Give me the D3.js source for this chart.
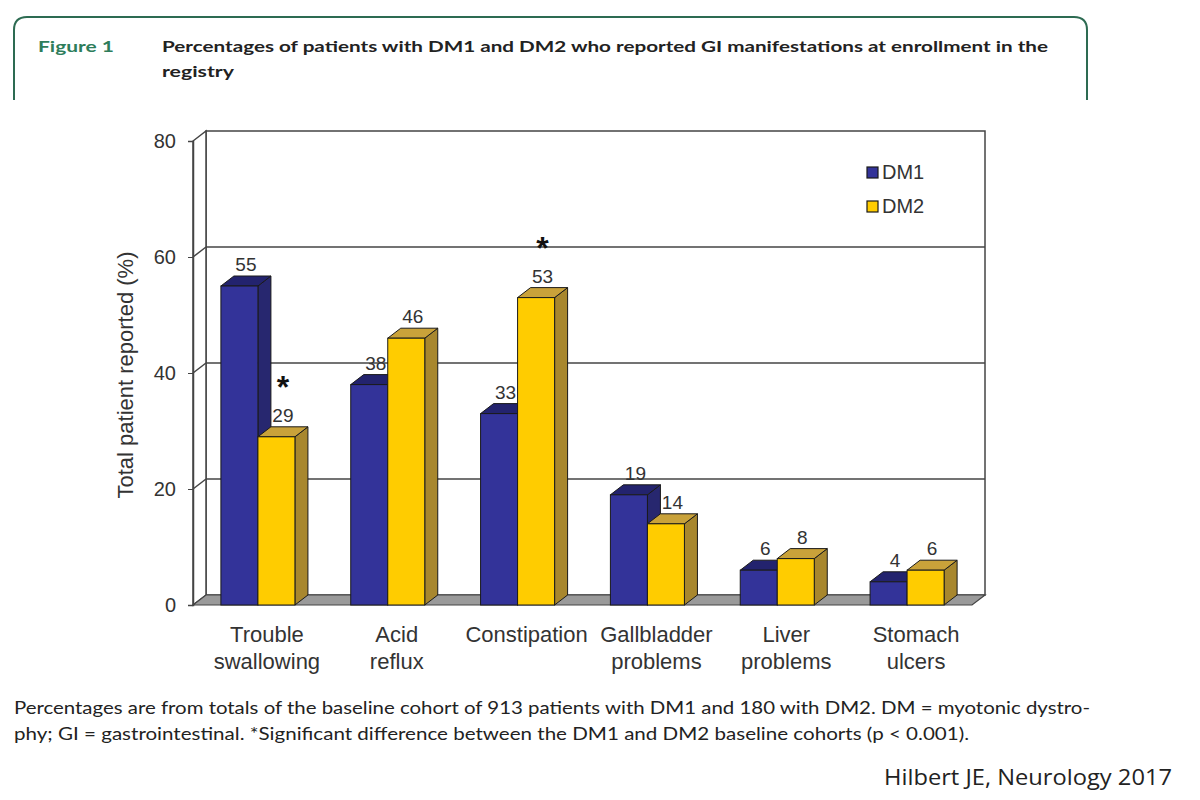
<!DOCTYPE html>
<html><head><meta charset="utf-8">
<script src="https://cdn.jsdelivr.net/npm/d3@7"></script>
<style>body{margin:0;background:#fff}svg{display:block}</style>
</head><body>
<svg id="c" width="1200" height="800"></svg>
<script>
const categories = [["Trouble","swallowing"],["Acid","reflux"],["Constipation"],["Gallbladder","problems"],["Liver","problems"],["Stomach","ulcers"]];
const catKeys = ["Trouble swallowing","Acid reflux","Constipation","Gallbladder problems","Liver problems","Stomach ulcers"];
const seriesNames = ["DM1","DM2"];
const dm1 = [55,38,33,19,6,4];
const dm2 = [29,46,53,14,8,6];
const significant = [[0,"DM2"],[2,"DM2"]];
const yTicks = [0,20,40,60,80];

const svg = d3.select("#c");
const F = "'Liberation Sans', Arial, sans-serif";
const DX = 13, DY = -10;
const x0 = 193, x1 = 972, yBase = 605, yTop = 141;
const y = d3.scaleLinear().domain([0,80]).range([yBase,yTop]);
const x = d3.scaleBand().domain(catKeys).range([x0,x1]);
const xs = d3.scaleBand().domain(seriesNames).range([0,x.bandwidth()]).paddingInner(0).paddingOuter(0.754);

const colors = {
  DM1:{front:"#333399", top:"#23236e", side:"#27276f"},
  DM2:{front:"#ffcc00", top:"#c9a23a", side:"#a8872e"}
};

// frame
svg.append("path")
  .attr("d","M14,100 L14,30 Q14,17 27,17 L1074,17 Q1087,17 1087,30 L1087,100")
  .attr("fill","none").attr("stroke","#2d6b52").attr("stroke-width",2);
svg.append("text").attr("x",38).attr("y",52).attr("font-family","Lato, 'Open Sans', sans-serif")
  .attr("font-weight","bold").attr("font-size",16).attr("fill","#2e7d5b").attr("textLength",76).attr("lengthAdjust","spacingAndGlyphs").text("Figure 1");
svg.append("text").attr("x",162).attr("y",52).attr("font-family","Lato, 'Open Sans', sans-serif")
  .attr("font-weight","bold").attr("font-size",16).attr("fill","#222").attr("textLength",886).attr("lengthAdjust","spacingAndGlyphs")
  .text("Percentages of patients with DM1 and DM2 who reported GI manifestations at enrollment in the");
svg.append("text").attr("x",162).attr("y",77).attr("font-family","Lato, 'Open Sans', sans-serif")
  .attr("font-weight","bold").attr("font-size",16).attr("fill","#222").attr("textLength",72).attr("lengthAdjust","spacingAndGlyphs")
  .text("registry");

const g = svg.append("g");
const line = (a,b,c,d,col="#333",w=1.2)=>g.append("line").attr("x1",a).attr("y1",b).attr("x2",c).attr("y2",d).attr("stroke",col).attr("stroke-width",w);

// back wall + left wall
g.append("rect").attr("x",x0+DX).attr("y",yTop+DY).attr("width",x1-x0).attr("height",yBase-yTop)
  .attr("fill","#fff").attr("stroke","#444").attr("stroke-width",1.5);
g.append("path").attr("d",`M${x0},${yBase} L${x0},${yTop} L${x0+DX},${yTop+DY} L${x0+DX},${yBase+DY} Z`)
  .attr("fill","#fff").attr("stroke","#444").attr("stroke-width",1.5);
yTicks.slice(1,4).forEach(t=>{
  line(x0+DX, y(t)+DY, x1+DX, y(t)+DY, "#444", 1.5);
  line(x0, y(t), x0+DX, y(t)+DY, "#444", 1.5);
});
// floor
g.append("path").attr("d",`M${x0},${yBase} L${x1},${yBase} L${x1+DX},${yBase+DY} L${x0+DX},${yBase+DY} Z`)
  .attr("fill","#9a9a9a").attr("stroke","#444").attr("stroke-width",1.2);

// axis
const ax = g.append("g").attr("transform",`translate(${x0},0)`)
  .call(d3.axisLeft(y).tickValues(yTicks).tickSize(5).tickPadding(12));
ax.select(".domain").attr("stroke","#444").attr("stroke-width",1.5);
ax.selectAll(".tick line").attr("stroke","#444");
ax.selectAll("text").attr("font-family",F).attr("font-size",20).attr("fill","#333");

svg.append("text").attr("transform","translate(133,375) rotate(-90)").attr("text-anchor","middle")
  .attr("font-family",F).attr("font-size",22).attr("fill","#333").text("Total patient reported (%)");

// bars
const data = [];
catKeys.forEach((c,i)=>{ data.push({c,i,s:"DM1",v:dm1[i]}); data.push({c,i,s:"DM2",v:dm2[i]}); });
const bw = xs.bandwidth();
data.forEach(d=>{
  const L = x(d.c)+xs(d.s), R = L+bw, T = y(d.v), B = yBase;
  const col = colors[d.s];
  const bg = g.append("g");
  bg.append("path").attr("d",`M${R},${B} L${R},${T} L${R+DX},${T+DY} L${R+DX},${B+DY} Z`).attr("fill",col.side).attr("stroke","#1a1a1a").attr("stroke-width",1);
  bg.append("path").attr("d",`M${L},${T} L${R},${T} L${R+DX},${T+DY} L${L+DX},${T+DY} Z`).attr("fill",col.top).attr("stroke","#1a1a1a").attr("stroke-width",1);
  bg.append("rect").attr("x",L).attr("y",T).attr("width",bw).attr("height",B-T).attr("fill",col.front).attr("stroke","#1a1a1a").attr("stroke-width",1);
  const cx = (L+R)/2+DX/2;
  const sig = significant.some(s=>s[0]===d.i && s[1]===d.s);
  g.append("text").attr("x",cx).attr("y",T+DY-5).attr("text-anchor","middle").attr("font-family",F)
    .attr("font-size",19).attr("fill","#333").text(d.v);
  if (sig) {
    g.append("text").attr("x",cx).attr("y",T+DY-29).attr("text-anchor","middle").attr("font-family",F)
      .attr("font-weight","bold").attr("font-size",32).attr("fill","#111").text("*");
  }
});

// category labels
catKeys.forEach((c,i)=>{
  const t = svg.append("text").attr("text-anchor","middle").attr("font-family",F).attr("font-size",22).attr("fill","#333");
  categories[i].forEach((ln,k)=>{
    t.append("tspan").attr("x",x(c)+x.bandwidth()/2+9).attr("y",642+k*27).text(ln);
  });
});

// legend
seriesNames.forEach((s,i)=>{
  svg.append("rect").attr("x",867).attr("y",167+i*34).attr("width",11).attr("height",11)
    .attr("fill",colors[s].front).attr("stroke","#1a1a1a").attr("stroke-width",1.2);
  svg.append("text").attr("x",882).attr("y",179+i*34).attr("font-family",F).attr("font-size",20).attr("fill","#333").text(s);
});

// footnotes
const FN = "Lato, 'Open Sans', sans-serif";
svg.append("text").attr("x",14).attr("y",714).attr("font-family",FN).attr("font-size",17).attr("fill","#222")
  .attr("textLength",1076).attr("lengthAdjust","spacingAndGlyphs")
  .text("Percentages are from totals of the baseline cohort of 913 patients with DM1 and 180 with DM2. DM = myotonic dystro-");
svg.append("text").attr("x",14).attr("y",740).attr("font-family",FN).attr("font-size",17).attr("fill","#222")
  .attr("textLength",955).attr("lengthAdjust","spacingAndGlyphs")
  .text("phy; GI = gastrointestinal. *Significant difference between the DM1 and DM2 baseline cohorts (p < 0.001).");
svg.append("text").attr("x",1172).attr("y",785).attr("text-anchor","end").attr("font-family","'Open Sans', sans-serif").attr("font-size",21).attr("fill","#222")
  .attr("textLength",288).attr("lengthAdjust","spacingAndGlyphs")
  .text("Hilbert JE, Neurology 2017");
</script>
</body></html>
